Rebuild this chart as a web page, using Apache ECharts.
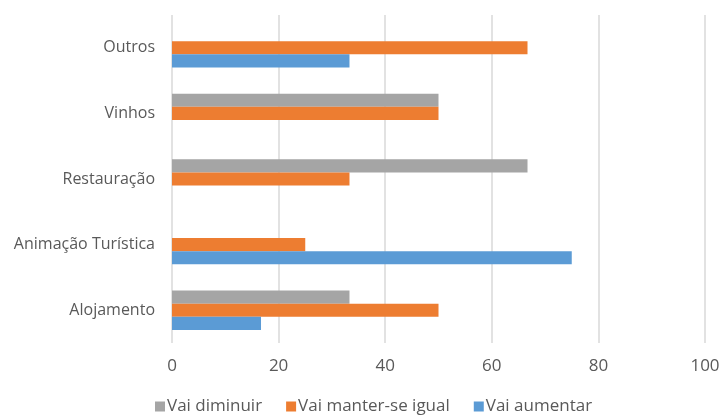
<!DOCTYPE html>
<html>
<head>
    <meta charset="utf-8">
    <title>Vai aumentar / diminuir</title>
    <script src="https://cdn.jsdelivr.net/npm/echarts@6/dist/echarts.min.js"></script>
    <style>
        html, body { margin: 0; padding: 0; background: #fff; }
    </style>
</head>
<body>
    <div id="chart" style="width: 724px;height: 419px;"></div>
</body>
<script>
    var categories = ['Alojamento', 'Animação Turística', 'Restauração', 'Vinhos', 'Outros'];
    var diminuir = [33.3, 0, 66.7, 50, 0];
    var manter = [50, 25, 33.3, 50, 66.7];
    var aumentar = [16.7, 75, 0, 0, 33.3];
    var xTicks = [0, 20, 40, 60, 80, 100];

    var font = '"Open Sans", sans-serif';
    var textColor = '#595959';

    var option = {
        animation: false,
        textStyle: { fontFamily: font },
        legend: {
            data: ['Vai diminuir', 'Vai manter-se igual', 'Vai aumentar'],
            top: 393,
            left: 150,
            itemWidth: 10,
            itemHeight: 10,
            itemGap: 24,
            icon: 'rect',
            textStyle: { color: textColor, fontSize: 17, fontFamily: font, padding: [0, 0, 0, -3] }
        },
        grid: {
            left: 172,
            right: 19,
            top: 15,
            bottom: 76
        },
        xAxis: {
            type: 'value',
            min: xTicks[0],
            max: xTicks[xTicks.length - 1],
            interval: 20,
            axisLine: { show: false },
            axisTick: { show: false },
            axisLabel: { color: textColor, fontSize: 17, margin: 15, fontFamily: font },
            splitLine: { lineStyle: { color: '#d9d9d9', width: 1.5 } }
        },
        yAxis: {
            type: 'category',
            data: categories,
            axisLine: { show: false },
            axisTick: { show: false },
            axisLabel: { color: textColor, fontSize: 16, margin: 17, fontFamily: font }
        },
        series: [
            {
                name: 'Vai diminuir',
                type: 'bar',
                data: diminuir,
                itemStyle: { color: '#A5A5A5' },
                barGap: '0%',
                barCategoryGap: '40%'
            },
            {
                name: 'Vai manter-se igual',
                type: 'bar',
                data: manter,
                itemStyle: { color: '#ED7D31' },
                barGap: '0%',
                barCategoryGap: '40%'
            },
            {
                name: 'Vai aumentar',
                type: 'bar',
                data: aumentar,
                itemStyle: { color: '#5B9BD5' },
                barGap: '0%',
                barCategoryGap: '40%'
            }
        ]
    };
    var chart = echarts.init(document.getElementById('chart'));
    chart.setOption(option);
</script>
</html>
